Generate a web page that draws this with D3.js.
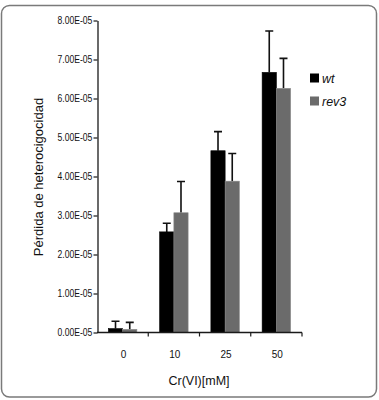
<!doctype html>
<html lang="es">
<head>
	<meta charset="UTF-8">
	<title>Pérdida de heterocigocidad</title>
	<style>
		body {
			margin: 0;
			background: #fff;
		}

		svg text {
			font-family: "Liberation Sans", Arial, sans-serif;
			fill: #111;
		}

		.tick-label {
			font-size: 10px;
		}

		.axis-title {
			font-size: 12.5px;
		}

		.axis-title--y {
			font-size: 13px;
		}

		.legend-label {
			font-size: 12.5px;
			font-style: italic;
		}
	</style>
</head>
<body>
	<script src="https://cdn.jsdelivr.net/npm/d3@7/dist/d3.min.js"></script>
	<script>
		// data
		var categories = ['0', '10', '25', '50'],
			seriesNames = ['wt', 'rev3'],
			wtValues = [1.0e-6, 2.58e-5, 4.66e-5, 6.67e-5],
			wtErrors = [1.9e-6, 2.2e-6, 4.9e-6, 1.06e-5],
			rev3Values = [0.8e-6, 3.07e-5, 3.88e-5, 6.26e-5],
			rev3Errors = [1.8e-6, 8.0e-6, 7.1e-6, 7.7e-6],
			yTicks = [0, 1e-5, 2e-5, 3e-5, 4e-5, 5e-5, 6e-5, 7e-5, 8e-5];

		var w = 379,
			h = 400,
			colors = {wt: '#000000', rev3: '#6b6b6b'};

		var svg = d3.select('body')
			.append('svg')
			.attr('width', w)
			.attr('height', h);

		// frame round the chart
		svg.append('rect')
			.attr('x', 1.5)
			.attr('y', 5.5)
			.attr('width', 375)
			.attr('height', 391.5)
			.attr('rx', 8)
			.attr('fill', 'none')
			.attr('stroke', '#7a7a7a')
			.attr('stroke-width', 1.5);

		var x0 = d3.scaleBand()
			.domain(categories)
			.range([97, 302])
			.padding(0);

		var x1 = d3.scaleBand()
			.domain(seriesNames)
			.range([0, x0.bandwidth()])
			.paddingInner(0)
			.paddingOuter(0.8);

		var yScale = d3.scaleLinear()
			.domain([0, 8e-5])
			.range([332.5, 20.5]);

		var rows = categories.map(function(c, i) {
			return {
				cat: c,
				bars: [
					{name: 'wt', value: wtValues[i], err: wtErrors[i]},
					{name: 'rev3', value: rev3Values[i], err: rev3Errors[i]}
				]
			};
		});

		/**
		* format tick like 8.00E-05
		*/
		var formatTick = function(d) {
			return (d / 1e-5).toFixed(2) + 'E-05';
		};

		// y axis
		var yAxis = d3.axisLeft(yScale)
			.tickValues(yTicks)
			.tickSize(4)
			.tickSizeOuter(0)
			.tickFormat(formatTick);

		var gy = svg.append('g')
			.attr('transform', 'translate(97.5,0)')
			.call(yAxis);

		gy.select('.domain').attr('stroke', '#1a1a1a').attr('stroke-width', 1.3);
		gy.selectAll('.tick line').attr('stroke', '#1a1a1a').attr('stroke-width', 1.2);
		gy.selectAll('.tick text')
			.attr('class', 'tick-label')
			.attr('x', -6)
			.attr('transform', 'scale(0.86,1)')
			.attr('font-size', null)
			.attr('font-family', null);

		// bars
		var groups = svg.selectAll('.group')
			.data(rows)
			.enter()
			.append('g')
			.attr('class', 'group')
			.attr('transform', function(d) {
				return 'translate(' + x0(d.cat) + ',0)';
			});

		// error bars go first so the bar covers their foot
		groups.selectAll('.err')
			.data(function(d) { return d.bars; })
			.enter()
			.append('path')
			.attr('class', 'err')
			.attr('fill', 'none')
			.attr('stroke', '#111')
			.attr('stroke-width', 1.6)
			.attr('d', function(d) {
				var cx = x1(d.name) + x1.bandwidth() / 2,
					top = yScale(d.value + d.err),
					bottom = yScale(d.value);
				return 'M' + cx + ',' + bottom + 'V' + top +
					'M' + (cx - 4) + ',' + top + 'H' + (cx + 4);
			});

		groups.selectAll('.bar')
			.data(function(d) { return d.bars; })
			.enter()
			.append('rect')
			.attr('class', 'bar')
			.attr('x', function(d) { return x1(d.name); })
			.attr('y', function(d) { return yScale(d.value); })
			.attr('width', x1.bandwidth())
			.attr('height', function(d) { return yScale(0) - yScale(d.value); })
			.attr('fill', function(d) { return colors[d.name]; })
			.attr('stroke', function(d) { return d.name === 'rev3' ? '#8a8a8a' : '#000'; })
			.attr('stroke-width', 0.6);

		// x axis
		var gx = svg.append('g')
			.attr('transform', 'translate(0,' + yScale(0) + ')');

		gx.append('line')
			.attr('x1', x0.range()[0])
			.attr('x2', x0.range()[1])
			.attr('stroke', '#1a1a1a')
			.attr('stroke-width', 1.3);

		gx.selectAll('.xtick')
			.data(categories)
			.enter()
			.append('line')
			.attr('class', 'xtick')
			.attr('x1', function(d) { return x0(d) + x0.bandwidth(); })
			.attr('x2', function(d) { return x0(d) + x0.bandwidth(); })
			.attr('y1', 0)
			.attr('y2', 4)
			.attr('stroke', '#1a1a1a')
			.attr('stroke-width', 1.2);

		gx.selectAll('.xlabel')
			.data(categories)
			.enter()
			.append('text')
			.attr('class', 'tick-label')
			.attr('text-anchor', 'middle')
			.attr('x', function(d) { return x0(d) + x0.bandwidth() / 2 + 1; })
			.attr('y', 25);

		gx.selectAll('.tick-label')
			.text(function(d) { return d; });

		// axis titles
		svg.append('text')
			.attr('class', 'axis-title')
			.attr('text-anchor', 'middle')
			.attr('x', 199)
			.attr('y', 385)
			.text('Cr(VI)[mM]');

		svg.append('text')
			.attr('class', 'axis-title axis-title--y')
			.attr('text-anchor', 'middle')
			.attr('transform', 'translate(43,177) rotate(-90)')
			.text('Pérdida de heterocigocidad');

		// legend
		var legend = svg.selectAll('.legend')
			.data(seriesNames)
			.enter()
			.append('g')
			.attr('class', 'legend')
			.attr('transform', function(d, i) {
				return 'translate(310,' + (73.5 + i * 23) + ')';
			});

		legend.append('rect')
			.attr('width', 9)
			.attr('height', 9)
			.attr('fill', function(d) { return colors[d]; });

		legend.append('text')
			.attr('class', 'legend-label')
			.attr('x', 12)
			.attr('y', 9)
			.text(function(d) { return d; });
	</script>
</body>
</html>
